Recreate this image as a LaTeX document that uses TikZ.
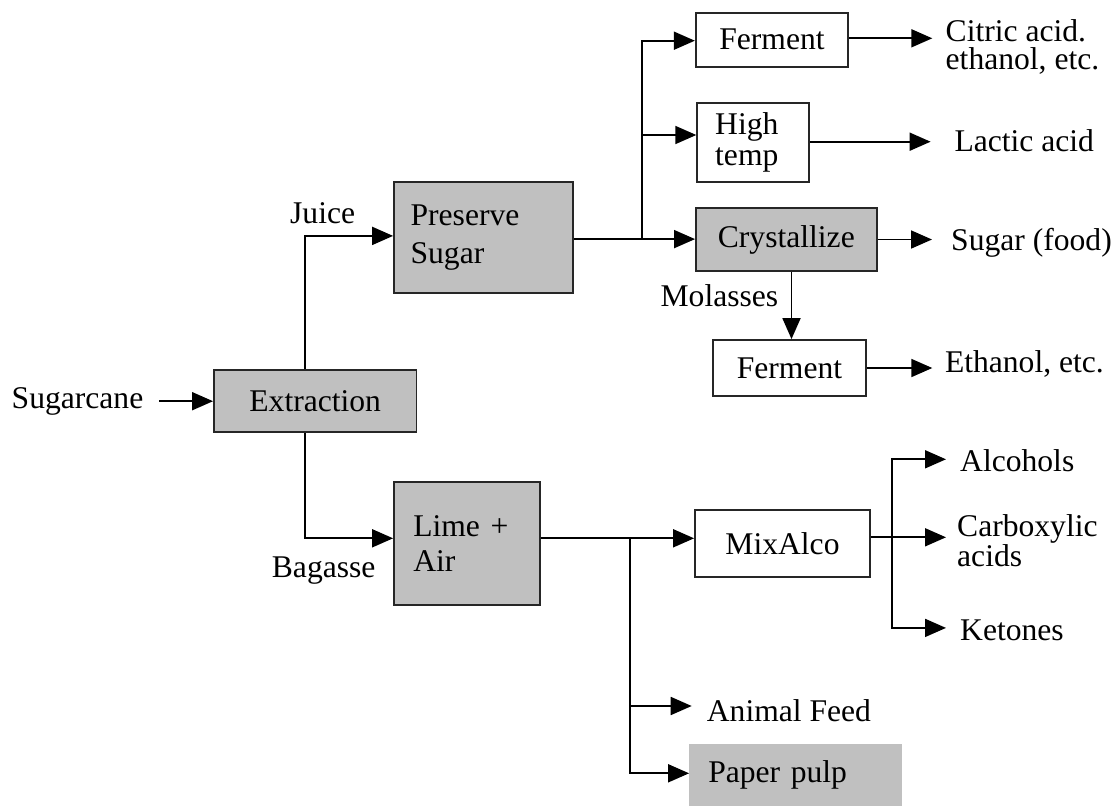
\documentclass[tikz,border=0pt]{standalone}
\usepackage{fontspec}
\setmainfont{Liberation Serif}
\usetikzlibrary{arrows.meta}
\definecolor{boxgray}{RGB}{192,192,192}
\begin{document}
\begin{tikzpicture}[x=1pt,y=-1pt,
  every node/.style={font=\fontsize{31.6}{36}\selectfont},
  proc/.style={draw=black!85, line width=1.8pt, fill=white, inner sep=0pt},
  gproc/.style={proc, fill=boxgray},
  lbl/.style={inner sep=0pt, anchor=base west},
  flow/.style={line width=1.8pt, -{Triangle[length=21pt,width=18pt]}},
]
\useasboundingbox (0,0) rectangle (1116,806);

% process boxes
\node[gproc, minimum width=202.5pt, minimum height=62.3pt] (extraction) at (315.2,401.2) {Extraction};
\node[gproc, minimum width=179pt, minimum height=111.7pt, inner xsep=16.6pt, text width=145.8pt,
      align=left, font=\fontsize{31.6}{38}\selectfont] (preserve) at (483.5,237.5) {Preserve\\Sugar};
\node[proc, minimum width=152.5pt, minimum height=54pt] (ferment1) at (772,39.7) {Ferment};
\node[proc, minimum width=112pt, minimum height=78.4pt, inner xsep=18pt, text width=76pt,
      align=left, font=\fontsize{31.6}{31.7}\selectfont] (hightemp) at (753.2,142.5) {High\\temp};
\node[gproc, minimum width=180.7pt, minimum height=62.4pt] (crystallize) at (786.3,239.5) {Crystallize};
\node[proc, minimum width=152.5pt, minimum height=56pt] (ferment2) at (789.5,368) {Ferment};
\node[gproc, minimum width=146pt, minimum height=122.7pt, inner xsep=19.3pt, text width=107.4pt,
      align=left, font=\fontsize{31.6}{35.6}\selectfont] (lime) at (467,543.7) {Lime +\\Air};
\node[proc, minimum width=175pt, minimum height=66.7pt] (mixalco) at (782.5,543.3) {MixAlco};
\node[fill=boxgray, inner sep=0pt, minimum width=212.4pt, minimum height=62pt, inner xsep=19pt,
      text width=174.4pt, align=left] (pulp) at (795.5,775) {Paper pulp};

% inputs, streams and products (two-line labels sit on their last baseline)
\node[lbl] (sugarcane) at (11.5,408) {Sugarcane};
\node[lbl] (juice) at (290,223.3) {Juice};
\node[lbl] (bagasse) at (271.7,577.3) {Bagasse};
\node[lbl] (molasses) at (660.4,306) {Molasses};
\node[lbl, align=left, font=\fontsize{31.6}{27.3}\selectfont] (citric) at (945.5,69) {Citric acid.\\ethanol, etc.};
\node[lbl] (lactic) at (954.3,151.7) {Lactic acid};
\node[lbl] (sugarfood) at (951,250) {Sugar (food)};
\node[lbl] (ethanol) at (944.8,372.7) {Ethanol, etc.};
\node[lbl] (alcohols) at (960,471.7) {Alcohols};
\node[lbl, align=left, font=\fontsize{31.6}{28.4}\selectfont] (carboxylic) at (957,566.7) {Carboxylic\\acids};
\node[lbl] (ketones) at (960,640) {Ketones};
\node[lbl] (feed) at (706.7,721.7) {Animal Feed};

% branch points
\coordinate (split1) at ([xshift=68pt,yshift=-1.6pt]preserve.east);
\coordinate (split2) at ([xshift=89pt,yshift=5.4pt]lime.east);
\coordinate (split3) at ([xshift=21pt,yshift=6pt]mixalco.east);

% feed and first split
\draw[flow] ([xshift=15.5pt]sugarcane.east |- extraction.west) -- (extraction.west);
\draw[flow] ([xshift=-10.2pt]extraction.north) |- ([yshift=1.6pt]preserve.west);
\draw[flow] ([xshift=-10.2pt]extraction.south) |- ([yshift=5.4pt]lime.west);

% sugar juice routes
\draw[flow] (split1 -| preserve.east) -- (split1 -| crystallize.west);
\draw[flow] (split1) |- ([yshift=-1pt]ferment1.west);
\draw[flow] (split1) |- ([yshift=7.5pt]hightemp.west);
\draw[flow, shorten >=13.2pt] ([yshift=1.4pt]ferment1.east) -- ([yshift=1.4pt]ferment1.east -| citric.west);
\draw[flow, shorten >=23.7pt] ([yshift=0.8pt]hightemp.east) -- ([yshift=0.8pt]hightemp.east -| lactic.west);
\draw[flow, shorten >=19pt] (crystallize.east) -- (crystallize.east -| sugarfood.west);
\draw[flow] ([xshift=2pt]crystallize.south -| ferment2.north) -- ([xshift=2pt]ferment2.north);
\draw[flow, shorten >=12.5pt] (ferment2.east) -- (ferment2.east -| ethanol.west);

% bagasse routes
\draw[flow] ([yshift=5.4pt]lime.east) -- ([yshift=5.4pt]lime.east -| mixalco.west);
\draw[flow, shorten >=15pt] (split2) |- ([yshift=4.9pt]feed.west);
\draw[flow] (split2) |- ([yshift=1.7pt]pulp.west);
\draw[flow, shorten >=11pt] ([yshift=6pt]mixalco.east) -- ([yshift=6pt]mixalco.east -| carboxylic.west);
\draw[flow, shorten >=14pt] (split3) |- ([yshift=1.6pt]alcohols.west);
\draw[flow, shorten >=14pt] (split3) |- ([yshift=1.9pt]ketones.west);
\end{tikzpicture}
\end{document}
